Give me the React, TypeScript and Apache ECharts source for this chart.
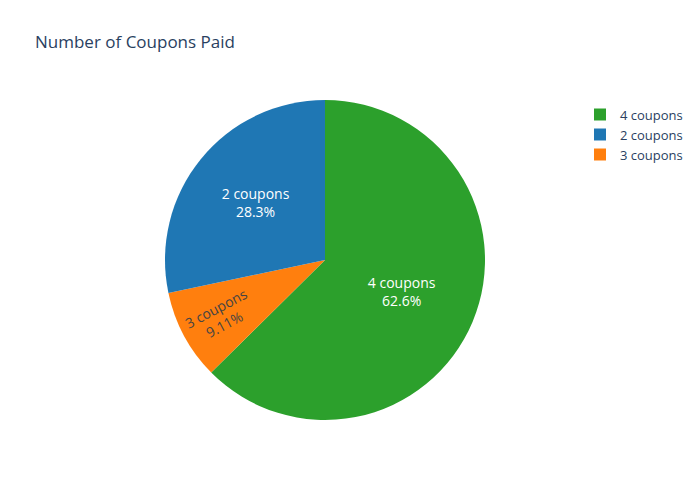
import * as echarts from 'echarts'
import { useEffect, useRef } from 'react'

const categories = ['4 coupons', '3 coupons', '2 coupons']
const shares = [62.6, 9.11, 28.3]
const colors = ['#2ca02c', '#ff7f0e', '#1f77b4']
const legendOrder = ['4 coupons', '2 coupons', '3 coupons']

const FONT = '"Open Sans", "Noto Sans", sans-serif'

const App = () => {
  const containerRef = useRef<HTMLDivElement>(null)

  useEffect(() => {
    if (!containerRef.current) return
    const chart = echarts.init(containerRef.current, undefined, { renderer: 'svg' })

    // 3 coupons slice gets dark rotated text like the original
    const data = categories.map((name, i) => {
      const item: any = { name, value: shares[i], itemStyle: { color: colors[i] } }
      if (name === '3 coupons') {
        item.label = { color: '#444', rotate: 28, offset: [-36, 0] }
      }
      if (name === '2 coupons') {
        item.label = { offset: [-5, -5] }
      }
      return item
    })

    chart.setOption({
      animation: false,
      textStyle: { fontFamily: FONT },
      title: {
        text: 'Number of Coupons Paid',
        left: 30,
        top: 28,
        textStyle: { fontFamily: FONT, fontSize: 17, fontWeight: 'normal', color: '#2a3f5f' }
      },
      legend: {
        orient: 'vertical',
        left: 589,
        top: 103,
        icon: 'rect',
        itemWidth: 12,
        itemHeight: 12,
        itemGap: 7,
        textStyle: { fontFamily: FONT, fontSize: 13, color: '#2a3f5f', padding: [0, 0, 0, 9] },
        data: legendOrder
      },
      series: [
        {
          type: 'pie',
          center: [325, 260],
          radius: [0, 160],
          startAngle: 90,
          clockwise: true,
          percentPrecision: 4,
          itemStyle: { borderWidth: 0 },
          label: {
            position: 'inside',
            fontFamily: FONT,
            fontSize: 14,
            lineHeight: 18,
            color: '#fff',
            formatter: (p: any) => `${p.name}\n${Number(p.percent).toPrecision(3)}%`
          },
          labelLine: { show: false },
          emphasis: { disabled: true },
          data
        }
      ]
    })

    return () => {
      chart.dispose()
    }
  }, [])

  return (
    <div
      ref={containerRef}
      style={{ position: 'fixed', left: 0, top: 0, width: 700, height: 500, background: '#fff' }}
    />
  )
}

export default App
